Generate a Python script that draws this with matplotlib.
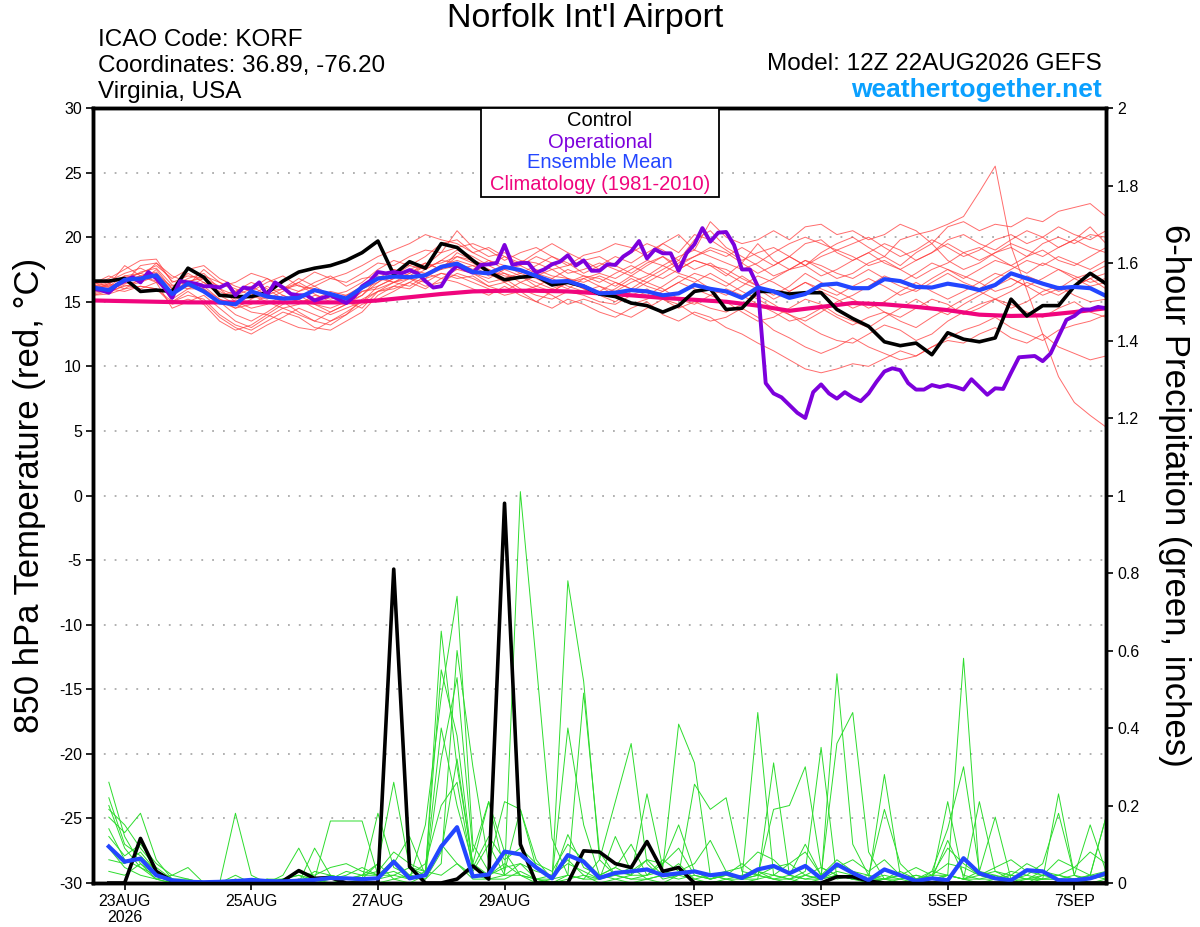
import numpy as np
import matplotlib
matplotlib.use("Agg")
import matplotlib.pyplot as plt
from matplotlib.patches import Rectangle

plt.rcParams['font.family'] = ['Liberation Sans', 'DejaVu Sans']

# --- data (hours after 12Z 22AUG2026) ---
# temperature at 850 hPa, 6-hourly from hour 0
ctrl_temp = [16.6, 16.6, 16.8, 15.8, 15.9, 15.8, 17.6, 16.9, 15.5, 15.4, 15.4, 15.7, 16.6, 17.3, 17.6, 17.8,
             18.2, 18.8, 19.7, 17.1, 18.1, 17.6, 19.5, 19.2, 18.2, 17.3, 16.7, 16.9, 17.0, 16.3, 16.5, 16.2,
             15.6, 15.4, 14.9, 14.7, 14.2, 14.7, 15.8, 16.0, 14.4, 14.5, 15.8, 15.8, 15.6, 15.7, 15.7, 14.4,
             13.7, 13.1, 11.9, 11.6, 11.8, 10.9, 12.6, 12.1, 11.9, 12.2, 15.2, 13.9, 14.7, 14.7, 16.2, 17.2,
             16.4]
mean_temp = [16.1, 15.9, 16.7, 16.8, 17.05, 15.6, 16.4, 15.8, 14.95, 14.8, 15.8, 15.4, 15.25, 15.3, 15.9, 15.6,
             15.25, 16.1, 16.8, 16.95, 16.9, 17.05, 17.7, 17.95, 17.3, 17.2, 17.7, 17.45, 17.0, 16.55, 16.6, 16.2,
             15.65, 15.7, 15.9, 15.8, 15.5, 15.65, 16.3, 16.0, 15.8, 15.3, 16.1, 15.8, 15.3, 15.6, 16.3, 16.4,
             16.05, 16.05, 16.75, 16.6, 16.15, 16.1, 16.4, 16.2, 15.9, 16.3, 17.2, 16.8, 16.4, 16.05, 16.15, 16.05,
             15.45]
# operational run, 3-hourly from hour 0
oper_temp = [16.0, 15.9, 15.7, 16.3, 16.6, 16.9, 16.5, 17.3, 16.8, 16.1, 15.3, 16.6, 16.5, 16.4, 16.2, 16.2,
             16.1, 16.4, 15.5, 16.1, 16.0, 16.5, 15.5, 16.5, 16.1, 15.6, 15.5, 15.5, 15.1, 15.3, 15.5, 15.2,
             14.9, 15.4, 16.2, 16.6, 17.3, 17.2, 17.3, 17.2, 17.45, 17.2, 16.6, 16.1, 16.2, 17.2, 17.8, 17.5,
             17.25, 17.85, 17.9, 18.0, 19.4, 17.85, 18.0, 18.0, 17.25, 17.5, 17.9, 18.1, 18.6, 17.8, 18.2, 17.4,
             17.4, 17.9, 17.85, 18.5, 18.9, 19.7, 18.35, 19.05, 18.75, 18.75, 17.4, 18.75, 19.45, 20.7, 19.65, 20.35,
             20.4, 19.4, 17.5, 17.5, 16.2, 8.7, 7.9, 7.6, 7.0, 6.4, 6.0, 8.0, 8.6, 7.9, 7.5, 8.0,
             7.6, 7.3, 7.9, 8.8, 9.6, 9.85, 9.7, 8.7, 8.2, 8.2, 8.55, 8.4, 8.55, 8.4, 8.2, 9.0,
             8.4, 7.8, 8.3, 8.25, 9.5, 10.7, 10.75, 10.8, 10.4, 11.0, 12.3, 13.6, 13.9, 14.4, 14.4, 14.6,
             14.5]
# climatology, 12-hourly from hour 0
clim_temp = [15.1, 15.05, 15.0, 14.95, 14.95, 14.95, 14.95, 14.95, 14.95, 15.1, 15.35, 15.6, 15.8, 15.85, 15.85,
             15.8, 15.65, 15.5, 15.3, 15.15, 15.0, 14.7, 14.3, 14.6, 14.9, 14.8, 14.6, 14.35, 14.0, 13.9,
             13.95, 14.2, 14.5]

# ensemble members, 6-hourly from hour 0
temp_members = [
    [16.3, 16.8, 17.5, 18.2, 18.3, 16.5, 17.0, 16.8, 16.2, 16.5, 17.2, 16.8, 16.0, 16.5, 17.3, 16.8,
     16.5, 17.2, 18.0, 17.8, 18.5, 19.0, 18.8, 20.5, 19.2, 18.5, 18.8, 18.2, 18.0, 17.5, 17.8, 18.6,
     18.9, 19.5, 19.2, 18.5, 19.5, 20.2, 19.0, 21.2, 20.0, 19.5, 19.8, 20.5, 19.8, 20.8, 21.0, 20.2,
     20.5, 19.8, 20.2, 21.0, 20.5, 19.5, 20.8, 21.2, 20.5, 21.0, 20.8, 21.5, 21.2, 22.0, 22.3, 22.6, 21.6],
    [15.8, 16.0, 16.5, 17.0, 17.3, 16.0, 16.2, 15.8, 15.0, 14.5, 15.2, 15.8, 16.0, 16.3, 15.6, 15.0,
     14.8, 15.5, 16.8, 17.5, 17.0, 17.8, 18.0, 18.5, 18.0, 17.2, 16.5, 17.0, 16.2, 15.8, 16.5, 17.0,
     16.8, 16.2, 17.0, 17.8, 18.5, 17.5, 18.2, 17.8, 17.0, 18.0, 19.5, 18.2, 17.5, 17.8, 18.8, 19.5,
     20.0, 19.2, 18.5, 19.8, 20.2, 20.5, 21.0, 21.6, 23.5, 25.5, 19.3, 15.9, 12.5, 9.2, 7.2, 6.2, 5.3],
    [15.5, 15.8, 16.2, 16.5, 17.0, 15.0, 15.5, 15.2, 14.0, 13.2, 12.8, 13.5, 14.2, 13.8, 13.0, 12.8,
     13.5, 14.2, 15.5, 16.2, 16.0, 16.8, 17.2, 17.0, 16.5, 16.0, 15.5, 15.8, 15.0, 14.5, 15.2, 14.8,
     14.2, 13.8, 14.5, 15.0, 14.0, 13.5, 14.2, 13.8, 13.0, 12.5, 11.8, 11.2, 10.5, 9.8, 9.5, 9.8,
     10.2, 10.0, 10.6, 11.2, 10.8, 11.5, 12.2, 12.8, 13.2, 13.8, 13.0, 12.5, 12.0, 12.8, 13.2, 13.5, 14.0],
    [16.5, 16.2, 17.0, 17.2, 17.8, 16.8, 17.5, 17.8, 16.8, 16.2, 15.8, 16.5, 17.0, 16.2, 16.0, 15.5,
     15.2, 16.0, 16.5, 17.5, 17.2, 17.8, 18.8, 19.2, 19.5, 19.0, 18.2, 18.8, 19.2, 18.5, 17.8, 18.2,
     17.5, 18.0, 18.8, 19.5, 19.0, 18.2, 19.8, 20.5, 19.2, 18.5, 17.8, 17.0, 17.5, 18.2, 17.5, 16.8,
     17.2, 18.0, 18.5, 17.8, 18.8, 19.5, 18.2, 17.5, 18.0, 18.8, 19.2, 18.5, 19.5, 20.0, 19.5, 20.2, 20.0],
    [15.9, 16.4, 16.0, 16.8, 17.2, 15.2, 16.0, 16.5, 15.5, 14.8, 14.2, 14.0, 14.8, 15.2, 14.5, 14.0,
     14.5, 15.0, 16.2, 16.8, 17.5, 17.2, 17.8, 18.2, 17.8, 17.0, 17.2, 16.8, 17.5, 17.0, 16.8, 16.2,
     15.8, 16.5, 16.0, 15.5, 16.2, 17.0, 16.5, 17.2, 16.5, 15.8, 15.2, 14.5, 14.0, 13.5, 14.2, 15.0,
     15.5, 16.2, 17.0, 16.5, 17.2, 18.0, 17.5, 16.8, 17.5, 18.2, 17.8, 17.2, 18.0, 17.5, 16.8, 17.2, 17.8],
    [16.0, 15.7, 16.3, 16.0, 16.5, 14.5, 15.0, 15.5, 14.5, 13.5, 13.0, 13.8, 14.5, 14.0, 13.5, 14.2,
     14.8, 15.8, 16.0, 16.5, 16.2, 17.0, 17.5, 17.8, 17.2, 16.5, 16.8, 16.0, 15.5, 15.2, 15.8, 15.5,
     15.0, 14.8, 15.5, 16.0, 15.2, 14.5, 15.0, 14.5, 14.2, 14.8, 15.5, 14.8, 14.0, 13.2, 12.5, 12.0,
     11.8, 12.5, 13.2, 12.8, 12.0, 12.5, 13.5, 14.2, 14.8, 15.2, 14.5, 15.0, 15.8, 16.2, 15.5, 15.0, 15.2],
    [16.2, 16.6, 17.2, 17.6, 17.0, 16.2, 16.8, 17.2, 16.0, 15.5, 16.0, 16.8, 16.2, 15.8, 16.5, 17.0,
     16.2, 16.8, 17.0, 16.5, 17.2, 18.0, 17.5, 18.5, 18.2, 17.8, 18.5, 17.8, 17.2, 16.8, 17.5, 17.0,
     16.5, 17.2, 17.8, 17.2, 16.8, 17.5, 18.2, 17.8, 17.5, 16.8, 16.2, 16.8, 17.5, 18.2, 17.8, 17.2,
     16.8, 17.5, 16.8, 16.2, 15.8, 16.5, 17.2, 16.5, 16.0, 16.8, 17.5, 18.2, 17.8, 18.5, 18.0, 17.5, 18.2],
    [15.6, 15.9, 16.8, 17.2, 16.8, 15.5, 16.5, 16.2, 15.2, 14.5, 14.8, 15.5, 15.0, 14.2, 13.5, 13.2,
     14.0, 15.2, 15.8, 16.5, 16.8, 16.5, 17.2, 16.8, 17.0, 16.2, 15.8, 16.5, 16.0, 15.5, 14.8, 15.2,
     14.8, 14.2, 13.8, 14.5, 15.2, 14.8, 14.0, 13.5, 13.8, 14.5, 13.8, 12.8, 12.2, 11.5, 11.0, 11.5,
     12.2, 11.5, 11.0, 10.5, 10.8, 11.5, 12.0, 11.8, 12.5, 13.0, 12.2, 11.8, 12.5, 11.5, 11.0, 10.5, 10.8],
    [16.4, 17.0, 16.5, 17.8, 18.0, 17.0, 16.5, 17.0, 16.5, 16.0, 15.5, 15.2, 15.8, 16.5, 15.8, 15.5,
     15.8, 16.5, 17.5, 18.2, 17.8, 18.5, 19.5, 19.8, 18.8, 18.2, 17.5, 17.8, 18.5, 18.0, 17.2, 17.5,
     18.0, 17.5, 17.0, 16.5, 17.2, 18.0, 18.5, 19.0, 18.5, 19.2, 18.5, 17.8, 18.5, 19.5, 19.8, 18.8,
     18.2, 18.8, 19.5, 19.0, 18.2, 18.8, 19.8, 20.2, 19.5, 19.0, 19.8, 20.5, 20.0, 19.2, 19.8, 20.8, 19.5],
    [15.7, 16.0, 15.8, 16.2, 16.0, 15.0, 15.8, 15.0, 13.8, 13.0, 12.5, 13.2, 13.8, 14.5, 14.0, 13.5,
     14.2, 15.0, 15.8, 16.2, 16.8, 16.2, 16.5, 17.2, 16.8, 16.2, 16.5, 15.8, 16.2, 16.8, 16.2, 15.8,
     16.2, 15.5, 14.8, 15.2, 15.8, 16.5, 16.0, 15.5, 15.0, 14.2, 13.5, 13.8, 14.5, 15.2, 14.8, 14.0,
     13.5, 13.0, 13.8, 14.5, 15.2, 14.5, 14.0, 14.8, 15.5, 16.2, 16.8, 16.2, 15.5, 16.0, 16.8, 16.2, 16.5],
    [16.1, 16.5, 16.9, 16.5, 17.5, 16.0, 17.2, 16.5, 15.8, 15.2, 15.5, 16.2, 15.5, 15.0, 15.2, 15.8,
     15.5, 16.2, 17.2, 17.0, 17.8, 17.5, 18.2, 18.0, 17.5, 18.2, 17.8, 17.2, 17.8, 18.5, 18.0, 17.2,
     17.8, 18.5, 18.0, 18.8, 19.5, 18.8, 20.2, 19.8, 19.0, 18.2, 18.8, 19.2, 18.5, 17.8, 18.5, 19.0,
     18.5, 17.8, 18.2, 17.5, 16.8, 17.5, 18.0, 18.8, 19.2, 18.5, 17.8, 18.5, 19.0, 18.2, 17.8, 18.5, 19.2],
    [15.8, 16.3, 17.8, 17.0, 16.5, 15.8, 16.2, 16.8, 15.5, 15.8, 16.5, 16.0, 15.2, 15.5, 14.8, 14.5,
     15.0, 14.5, 15.8, 16.0, 16.5, 17.2, 16.8, 17.5, 17.2, 16.8, 17.5, 17.0, 16.5, 16.0, 16.5, 16.8,
     16.2, 15.8, 16.5, 17.0, 17.8, 17.2, 16.8, 16.0, 15.5, 16.2, 17.0, 16.5, 15.8, 16.5, 15.8, 15.2,
     14.5, 15.0, 14.2, 13.8, 14.5, 15.2, 14.8, 14.0, 14.5, 15.2, 14.8, 14.2, 13.8, 14.5, 15.0, 14.2, 13.8],
    [16.0, 16.2, 16.6, 17.3, 17.6, 16.3, 16.0, 16.0, 15.0, 14.0, 13.5, 14.2, 15.0, 15.8, 16.2, 15.5,
     15.0, 15.5, 16.5, 17.2, 16.8, 17.5, 18.2, 19.0, 18.5, 17.8, 17.2, 16.5, 17.0, 17.5, 16.8, 16.5,
     17.0, 16.5, 16.0, 16.8, 17.5, 18.2, 17.5, 18.0, 17.2, 16.5, 16.0, 15.2, 15.8, 16.5, 16.0, 15.5,
     16.2, 16.8, 16.2, 15.5, 16.0, 16.8, 17.5, 17.0, 16.5, 17.2, 16.8, 16.2, 16.8, 17.5, 17.0, 16.5, 16.8],
    [16.2, 15.9, 16.4, 16.6, 17.0, 15.8, 16.6, 16.8, 16.0, 15.0, 14.5, 14.8, 15.5, 15.0, 14.8, 14.2,
     14.8, 15.8, 16.2, 16.8, 17.5, 18.0, 17.5, 18.8, 18.2, 17.5, 16.8, 17.2, 16.8, 16.2, 16.8, 16.0,
     15.5, 16.0, 16.8, 16.2, 15.8, 16.5, 17.2, 16.8, 16.2, 17.0, 16.2, 15.5, 16.2, 17.2, 16.5, 15.8,
     15.2, 14.5, 15.0, 15.8, 16.5, 15.8, 15.2, 15.8, 16.5, 15.8, 16.2, 17.0, 16.5, 15.8, 16.2, 16.8, 16.0],
    [16.0, 16.4, 17.0, 16.8, 18.0, 16.6, 16.3, 17.5, 16.5, 15.8, 16.2, 15.5, 16.0, 16.8, 16.2, 16.8,
     17.2, 17.8, 18.5, 19.0, 19.5, 20.2, 19.8, 19.5, 18.8, 19.2, 18.5, 18.0, 18.8, 19.5, 18.8, 18.2,
     18.5, 17.8, 17.2, 18.0, 18.5, 17.8, 18.5, 19.2, 18.8, 18.0, 17.2, 17.8, 18.5, 17.8, 17.0, 17.5,
     18.2, 18.8, 18.0, 17.5, 18.2, 18.8, 19.5, 18.8, 18.2, 18.8, 19.5, 19.0, 18.5, 19.2, 19.8, 19.2, 18.8],
    [15.5, 15.6, 16.0, 16.2, 16.0, 14.8, 15.2, 14.8, 13.5, 12.8, 13.2, 14.0, 13.5, 13.0, 12.8, 13.5,
     14.0, 14.8, 15.2, 15.8, 16.5, 16.0, 16.8, 16.5, 16.0, 15.5, 16.2, 15.5, 15.0, 15.8, 16.5, 16.0,
     15.5, 15.0, 15.8, 16.5, 16.0, 15.2, 14.8, 15.5, 16.0, 15.5, 14.8, 14.2, 13.5, 13.8, 14.5, 13.8,
     13.2, 13.8, 14.2, 13.5, 13.0, 13.8, 14.5, 15.2, 15.8, 15.2, 15.8, 16.5, 16.0, 15.5, 16.2, 16.8, 17.2],
    [16.3, 16.1, 16.7, 17.0, 16.6, 15.6, 16.4, 16.0, 15.2, 14.8, 15.5, 15.0, 14.5, 14.8, 15.5, 15.2,
     15.5, 16.0, 16.8, 16.5, 17.0, 16.8, 17.8, 17.5, 17.8, 17.5, 17.0, 16.8, 17.2, 16.5, 16.0, 16.8,
     17.2, 16.8, 17.5, 18.2, 17.8, 18.5, 19.0, 18.5, 18.0, 17.5, 18.0, 18.8, 19.5, 20.0, 19.5, 19.0,
     19.5, 20.0, 19.2, 18.5, 19.0, 19.8, 19.2, 18.5, 19.0, 19.8, 20.2, 19.5, 20.0, 20.8, 20.2, 19.8, 20.5],
]

# 6-hour precipitation (inches), 6-hourly from hour 6
ctrl_precip = [0.0, 0.0, 0.115, 0.03, 0.005, 0, 0, 0,
               0, 0, 0, 0.005, 0.032, 0.012, 0.014, 0,
               0, 0, 0.81, 0.042, 0, 0, 0.01, 0.044,
               0.01, 0.98, 0.10, 0, 0, 0, 0.083, 0.08,
               0.05, 0.04, 0.107, 0.03, 0.04, 0, 0, 0,
               0, 0, 0, 0, 0, 0, 0.016, 0.016,
               0.005, 0, 0, 0, 0, 0, 0, 0,
               0, 0, 0, 0, 0, 0, 0, 0]
mean_precip = [0.094, 0.055, 0.063, 0.02, 0.007, 0.003, 0.002, 0.003,
               0.005, 0.008, 0.005, 0.004, 0.006, 0.008, 0.013, 0.012,
               0.01, 0.012, 0.055, 0.012, 0.02, 0.094, 0.144, 0.017,
               0.022, 0.081, 0.074, 0.04, 0.012, 0.072, 0.055, 0.013,
               0.026, 0.03, 0.035, 0.02, 0.025, 0.03, 0.02, 0.025,
               0.013, 0.035, 0.044, 0.025, 0.044, 0.012, 0.048, 0.026,
               0.007, 0.035, 0.02, 0.005, 0.012, 0.007, 0.064, 0.025,
               0.012, 0.007, 0.033, 0.03, 0.007, 0.007, 0.012, 0.025]
precip_members = [
    [.26, .12, .05, .02, 0, 0, 0, 0, .18, .02, 0, .01, .02, 0, .01, .03,
     .02, .05, .26, .04, .02, .65, .30, .05, .21, .08, .02, 0, .01, .78, .52, .06,
     .02, .04, .01, 0, .02, .03, .01, .02, .01, .03, .01, 0, .02, .01, .54, .10,
     .02, 0, .01, 0, .03, .02, .01, .21, .03, .01, 0, .02, .01, 0, .02, .17],
    [.17, .13, .18, .06, .01, 0, 0, 0, 0, 0, 0, .02, .09, .01, .16, .16,
     .16, .02, .03, .01, .15, .48, .74, .10, .03, .02, 1.01, .57, .115, .02, .01, .06,
     .21, .36, .05, .01, .02, .01, .02, .03, .01, .44, .02, .01, .03, .35, .01, .02,
     .01, .28, .02, 0, .01, .02, .01, .03, .02, 0, .01, .01, .23, .02, 0, .01],
    [.20, .09, .04, .01, .02, .04, 0, 0, .02, 0, .01, 0, 0, .09, .02, .01,
     .01, .18, .04, .02, .01, .05, .60, .30, .05, .21, .19, .04, .01, .40, .15, .02,
     .01, .02, .23, .04, .41, .31, .02, .01, .01, .01, .31, .02, .01, .02, .36, .44,
     .08, .01, .02, .01, .02, .02, .58, .02, .01, .02, .01, .03, .01, .02, .15, .03],
    [.12, .07, .10, .05, .02, .01, 0, 0, 0, 0, 0, .01, .03, .02, .04, .05,
     .03, .02, .05, .12, .02, .32, .53, .08, .21, .03, .19, .06, .01, .125, .04, .02,
     .04, .02, .06, .02, .02, .255, .19, .22, .03, .02, .19, .20, .30, .04, .02, .01,
     .02, .19, .05, .01, .03, .14, .30, .03, .17, .01, .02, .05, .18, .02, .01, .02],
    [.09, .04, .02, .01, 0, 0, 0, 0, .01, 0, 0, 0, .01, .01, .02, .01,
     .02, .02, .02, .04, .03, .40, .20, .05, .02, .05, .02, .01, 0, .02, .49, .08,
     .02, .01, .02, .05, .15, .03, .01, .02, .05, .02, .01, .02, .01, .01, .03, .02,
     .01, .01, .02, .01, .01, .21, .01, .02, .01, .03, .02, .01, .01, .01, .02, .01],
    [.06, .05, .08, .03, .01, 0, 0, 0, 0, .01, 0, .01, 0, .01, .01, .02,
     .04, .02, .06, .02, .01, .08, .32, .04, .02, .04, .05, .03, .02, .06, .02, .01,
     .03, .02, .02, .03, .02, .03, .02, .01, .02, .03, .02, .05, .02, .04, .02, .01,
     .01, .02, .01, .02, .01, .11, .02, .01, .01, .02, .01, .02, .02, .01, .02, .03],
    [.03, .02, .05, .01, 0, 0, 0, 0, 0, 0, 0, 0, .01, 0, 0, .01,
     .01, .01, .02, .01, .03, .02, .05, .02, .01, .02, .02, .01, .01, .02, .01, .01,
     .02, .01, .01, .02, .01, .02, .01, .02, .01, .02, .01, .01, .02, .01, .02, .01,
     .01, .01, .01, .02, .01, .02, .01, .01, .02, .01, .01, .01, .02, .01, .01, .02],
    [.14, .06, .04, .02, .01, 0, 0, 0, 0, 0, 0, 0, 0, 0, 0, 0,
     0, 0, .01, 0, .02, .10, .05, .01, .01, .01, .03, .01, 0, .01, .02, 0,
     .01, 0, .01, .02, .05, .01, 0, .01, 0, .01, .02, .01, 0, .01, .02, .01,
     0, .01, 0, .01, 0, .02, .01, 0, .01, 0, 0, .01, .01, 0, .01, .02],
    [.22, .10, .07, .03, .01, 0, 0, 0, 0, 0, .01, .01, .02, .01, 0, 0,
     .01, .05, .01, .02, .05, .20, .26, .03, .10, .02, .05, .01, .02, .05, .03, .01,
     .12, .03, .06, .05, .09, .02, .01, .03, .01, .02, .04, .05, .08, .02, .06, .03,
     .02, .01, .03, .01, .02, .05, .04, .02, .03, .02, .05, .03, .02, .04, .02, .17],
    [.19, .15, .09, .04, .01, .01, 0, 0, .01, 0, 0, 0, 0, .03, .02, .01,
     .02, .03, .08, .05, .03, .55, .38, .04, .12, .06, .09, .05, .03, .10, .06, .02,
     .04, .10, .02, .06, .03, .05, .11, .03, .04, .08, .06, .02, .10, .02, .04, .06,
     .03, .06, .02, .04, .02, .09, .05, .02, .04, .06, .03, .02, .06, .04, .08, .05],
]

start = np.datetime64('2026-08-22T12')
tick_dates = ['2026-08-23', '2026-08-25', '2026-08-27', '2026-08-29',
              '2026-09-01', '2026-09-03', '2026-09-05', '2026-09-07']
tick_labels = ['23AUG\n2026', '25AUG', '27AUG', '29AUG', '1SEP', '3SEP', '5SEP', '7SEP']
tick_hours = [(np.datetime64(d + 'T00') - start) / np.timedelta64(1, 'h') for d in tick_dates]

t6 = np.arange(len(ctrl_temp)) * 6
t3 = np.arange(len(oper_temp)) * 3
t12 = np.arange(len(clim_temp)) * 12
tp = (np.arange(len(ctrl_precip)) + 1) * 6

# --- figure ---
W, H = 1200, 927
fig = plt.figure(figsize=(W / 100, H / 100), dpi=100)
ax = fig.add_axes([93 / W, 1 - 883 / H, (1106 - 93) / W, (883 - 108) / H])
ax2 = ax.twinx()

for v in range(-25, 30, 5):
    ax.axhline(v, color='#aaaaaa', lw=1.3, ls=(0, (1, 5)), zorder=0)

for m in temp_members:
    ax.plot(t6, m, color='#ff3b3b', lw=0.7, alpha=0.75)
ax.plot(t12, clim_temp, color='#f0057d', lw=3)
ax.plot(t6, ctrl_temp, color='black', lw=2.6)
ax.plot(t3, oper_temp, color='#7d00dc', lw=2.8)
ax.plot(t6, mean_temp, color='#2346ff', lw=3)

for m in precip_members:
    ax2.plot(tp, m, color='#2ddc2d', lw=0.7)
ax2.plot(tp, ctrl_precip, color='black', lw=2.6)
ax2.plot(tp, mean_precip, color='#2346ff', lw=3)

ax.set_xlim(0, 384)
ax.set_ylim(-30, 30)
ax2.set_ylim(0, 2)
ax.set_yticks(range(-30, 31, 5))
ax.set_yticklabels([str(v) for v in range(-30, 31, 5)], fontsize=11.5)
pt = np.round(np.arange(0, 2.01, 0.2), 1)
ax2.set_yticks(pt)
ax2.set_yticklabels(['%g' % v for v in pt], fontsize=11.5)
ax.set_xticks(tick_hours)
ax.set_xticklabels(tick_labels, fontsize=11.5, linespacing=1.05)

for a in (ax, ax2):
    for s in a.spines.values():
        s.set_linewidth(2.5)
    a.tick_params(direction='out', length=5, width=1.2, pad=3)

# --- texts ---
fig.text(585 / W, 1 - 18 / H, "Norfolk Int'l Airport", ha='center', va='center', fontsize=24.5)
fig.text(98 / W, 1 - 40 / H, 'ICAO Code: KORF', ha='left', va='center', fontsize=17.5)
fig.text(98 / W, 1 - 66 / H, 'Coordinates: 36.89, -76.20', ha='left', va='center', fontsize=17.5)
fig.text(98 / W, 1 - 92 / H, 'Virginia, USA', ha='left', va='center', fontsize=17.5)
fig.text(1102 / W, 1 - 64 / H, 'Model: 12Z 22AUG2026 GEFS', ha='right', va='center', fontsize=17.5)
fig.text(1102 / W, 1 - 90 / H, 'weathertogether.net', ha='right', va='center', fontsize=19,
         weight='bold', color='#0aa0ff')

fig.text(30 / W, 1 - 495 / H, '850 hPa Temperature (red, °C)', rotation=90,
         ha='center', va='center', fontsize=25)
fig.text(1174 / W, 1 - 495 / H, '6-hour Precipitation (green, inches)', rotation=270,
         ha='center', va='center', fontsize=25)

# legend box
box = Rectangle((481 / W, 1 - 197 / H), (719 - 481) / W, 89 / H, transform=fig.transFigure,
                facecolor='white', edgecolor='black', lw=1.3, zorder=5)
fig.add_artist(box)
leg = [('Control', 'black', 121), ('Operational', '#7d00dc', 142),
       ('Ensemble Mean', '#2346ff', 163), ('Climatology (1981-2010)', '#f0057d', 185)]
for txt, col, yy in leg:
    fig.text(600 / W, 1 - yy / H, txt, color=col, ha='center', va='center', fontsize=14.5, zorder=6)

fig.savefig('out.png', dpi=100)
